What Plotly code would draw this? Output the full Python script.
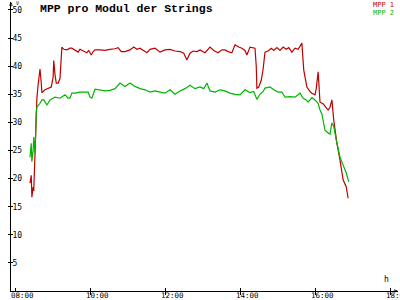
import plotly.graph_objects as go

DAY = "2024-06-01 "

series_names = ["MPP 1", "MPP 2"]
series_colors = ["#c00000", "#00b400"]

mpp1_times = ["08:24","08:26","08:27","08:29","08:30","08:32","08:34","08:35","08:37","08:40",
              "08:42","08:43","08:48","08:53","08:58","09:01","09:02","09:04","09:06","09:09",
              "09:12","09:15","09:18","09:23","09:28","09:31","09:36","09:41","09:44","09:50",
              "09:55","09:58","10:02","10:05","10:08","10:16","10:24","10:32","10:40","10:45",
              "10:50","10:56","11:04","11:10","11:15","11:20","11:25","11:31","11:36","11:44",
              "11:52","12:00","12:08","12:16","12:24","12:30","12:35","12:40","12:45","12:51",
              "12:56","13:04","13:12","13:18","13:25","13:31","13:36","13:41","13:47","13:52",
              "13:58","14:03","14:08","14:11","14:16","14:21","14:24","14:26","14:27","14:30",
              "14:34","14:37","14:40","14:45","14:50","14:54","14:59","15:04","15:09","15:14",
              "15:18","15:23","15:28","15:33","15:36","15:39","15:42","15:47","15:52","15:55",
              "16:00","16:02","16:05","16:06","16:08","16:13","16:18","16:21","16:24","16:27",
              "16:30","16:35","16:40","16:45","16:50","16:53"]
mpp1_values = [19.2,20.6,16.7,18.5,17.8,24.5,31.7,34.3,36.7,39.5,
               37.0,35.3,35.8,36.1,36.3,38.0,41.0,38.5,37.0,37.0,
               37.8,43.4,43.0,42.9,43.2,43.2,42.8,42.5,43.0,42.6,
               42.4,42.8,42.0,42.6,42.9,42.9,42.8,43.0,43.1,43.3,
               42.6,42.6,42.9,43.4,43.0,43.2,42.8,42.4,43.0,43.2,
               42.5,42.9,43.0,42.7,42.6,42.3,41.1,42.3,42.7,42.6,
               42.9,42.4,43.4,42.8,42.4,42.9,42.9,42.6,42.4,43.8,
               43.4,43.2,42.8,42.0,43.4,43.2,43.2,40.0,36.1,36.3,
               37.5,39.5,42.5,42.7,43.2,42.8,43.3,42.8,43.4,43.0,
               43.3,42.5,43.2,43.0,43.5,44.1,39.3,36.3,35.5,35.2,
               34.9,36.0,39.0,37.0,33.6,33.3,32.7,32.2,32.7,34.0,
               30.4,26.3,23.3,19.8,18.5,16.5]

mpp2_times = ["08:24","08:26","08:27","08:29","08:30","08:32","08:34","08:35","08:40","08:43",
              "08:46","08:51","08:56","09:04","09:12","09:20","09:25","09:28","09:31","09:36",
              "09:44","09:52","09:57","10:00","10:03","10:08","10:16","10:24","10:32","10:40",
              "10:48","10:56","11:04","11:12","11:20","11:28","11:36","11:44","11:52","12:00",
              "12:08","12:16","12:24","12:32","12:40","12:48","12:56","13:02","13:07","13:12",
              "13:20","13:28","13:36","13:44","13:52","14:00","14:08","14:16","14:22","14:27",
              "14:32","14:37","14:40","14:48","14:54","15:01","15:07","15:12","15:20","15:28",
              "15:36","15:41","15:46","15:49","15:55","16:00","16:05","16:08","16:11","16:16",
              "16:21","16:24","16:27","16:30","16:34","16:37","16:40","16:45","16:50","16:54"]
mpp2_values = [23.8,26.3,23.0,25.0,27.4,24.5,31.7,32.7,33.4,34.0,
               34.0,33.1,34.0,34.5,34.3,34.9,34.3,34.3,35.2,35.2,
               35.4,35.4,35.4,34.5,34.3,35.9,35.7,35.6,35.7,36.0,
               37.0,36.4,37.0,36.4,36.0,35.8,35.4,35.6,35.4,35.2,
               35.8,35.0,35.6,36.0,36.6,36.0,36.3,36.0,37.0,35.6,
               35.4,35.8,35.6,35.2,35.0,34.9,35.8,35.3,35.5,34.1,
               35.0,35.5,36.1,36.3,35.8,35.4,35.4,34.5,34.6,34.5,
               35.2,34.3,34.0,33.6,34.4,34.0,33.4,32.2,31.5,28.6,
               28.1,27.9,29.9,29.3,26.9,25.6,23.8,22.4,21.0,19.4]

x_tickvals = ["08:00", "10:00", "12:00", "14:00", "16:00", "18:00"]
y_tickvals = [5, 10, 15, 20, 25, 30, 35, 40, 45, 50]

title_text = "MPP pro Modul der Strings"
x_unit = "h"
y_unit = "V"

x_range = [DAY + "07:53:36", DAY + "18:12:48"]
y_range = [0, 51.42]

MONO = "DejaVu Sans Mono"

fig = go.Figure()
for name, color, times, vals in [
    (series_names[0], series_colors[0], mpp1_times, mpp1_values),
    (series_names[1], series_colors[1], mpp2_times, mpp2_values),
]:
    fig.add_trace(go.Scatter(
        x=[DAY + t for t in times], y=vals, mode="lines", name=name,
        line=dict(color=color, width=1.2, shape="linear"),
        showlegend=False,
    ))

# invisible trace to hold overlay axes
fig.add_trace(go.Scatter(x=[x_range[0]], y=[0], xaxis="x2", yaxis="y2",
                         mode="markers", marker=dict(opacity=0), showlegend=False,
                         hoverinfo="skip"))

tick_font = dict(family=MONO, size=8, color="black")

fig.update_layout(
    width=400, height=300,
    margin=dict(l=11, r=2, t=2, b=9),
    paper_bgcolor="white", plot_bgcolor="white",
    xaxis=dict(
        type="date", range=x_range,
        tickvals=[DAY + t for t in x_tickvals],
        ticks="outside", ticklen=3, tickwidth=1, tickcolor="black",
        showline=True, linecolor="black", linewidth=1,
        showgrid=False, zeroline=False, showticklabels=False,
    ),
    yaxis=dict(
        range=y_range, tickvals=y_tickvals,
        ticks="outside", ticklen=2, tickwidth=1, tickcolor="black",
        showline=True, linecolor="black", linewidth=1,
        showgrid=False, zeroline=False,
        ticklabelposition="inside", tickfont=tick_font,
    ),
    xaxis2=dict(
        type="date", range=x_range, overlaying="x", anchor="y2",
        tickvals=[DAY + t for t in x_tickvals],
        ticks="inside", ticklen=3, tickwidth=1, tickcolor="black",
        showticklabels=False, showline=False, showgrid=False, zeroline=False,
    ),
    yaxis2=dict(
        range=y_range, overlaying="y", anchor="x2", tickvals=y_tickvals,
        ticks="inside", ticklen=2, tickwidth=1, tickcolor="black",
        showticklabels=False, showline=False, showgrid=False, zeroline=False,
    ),
    showlegend=False,
)

annotations = [
    dict(text="<b>" + title_text + "</b>", xref="paper", yref="paper",
         x=0.075, y=1.0, xanchor="left", yanchor="top", xshift=-2, yshift=2,
         showarrow=False, font=dict(family="Liberation Mono", size=11.5, color="black")),
    dict(text=series_names[0], xref="paper", yref="paper", x=1.0, y=1.0,
         xanchor="right", yanchor="top", xshift=-2, yshift=3, showarrow=False,
         font=dict(family=MONO, size=7, color=series_colors[0])),
    dict(text=series_names[1], xref="paper", yref="paper", x=1.0, y=1.0,
         xanchor="right", yanchor="top", xshift=-2, yshift=-5, showarrow=False,
         font=dict(family=MONO, size=7, color=series_colors[1])),
    dict(text=x_unit, xref="paper", yref="paper", x=1.0, y=0.0,
         xanchor="right", yanchor="bottom", xshift=-7, yshift=5, showarrow=False,
         font=dict(family=MONO, size=8, color="black")),
    dict(text=y_unit, xref="paper", yref="paper", x=0.0, y=1.0,
         xanchor="left", yanchor="top", xshift=3, yshift=4, showarrow=False,
         font=dict(family=MONO, size=5, color="black")),
    # axis arrows
    dict(xref="paper", yref="paper", x=1.0, y=0.0, ax=-6, ay=0, axref="pixel", ayref="pixel",
         showarrow=True, arrowhead=5, arrowsize=0.6, arrowwidth=1, arrowcolor="black", text=""),
    dict(xref="paper", yref="paper", x=0.0, y=1.0, ax=0, ay=6, axref="pixel", ayref="pixel",
         showarrow=True, arrowhead=5, arrowsize=0.6, arrowwidth=1, arrowcolor="black", text=""),
]
for t in x_tickvals:
    annotations.append(dict(
        text=t, xref="x", yref="paper", x=DAY + t, y=0.0,
        xanchor="left", yanchor="bottom", xshift=-6, yshift=-11, showarrow=False,
        font=dict(family=MONO, size=7.5, color="black"),
    ))
fig.update_layout(annotations=annotations)

fig.write_html("out.html")
